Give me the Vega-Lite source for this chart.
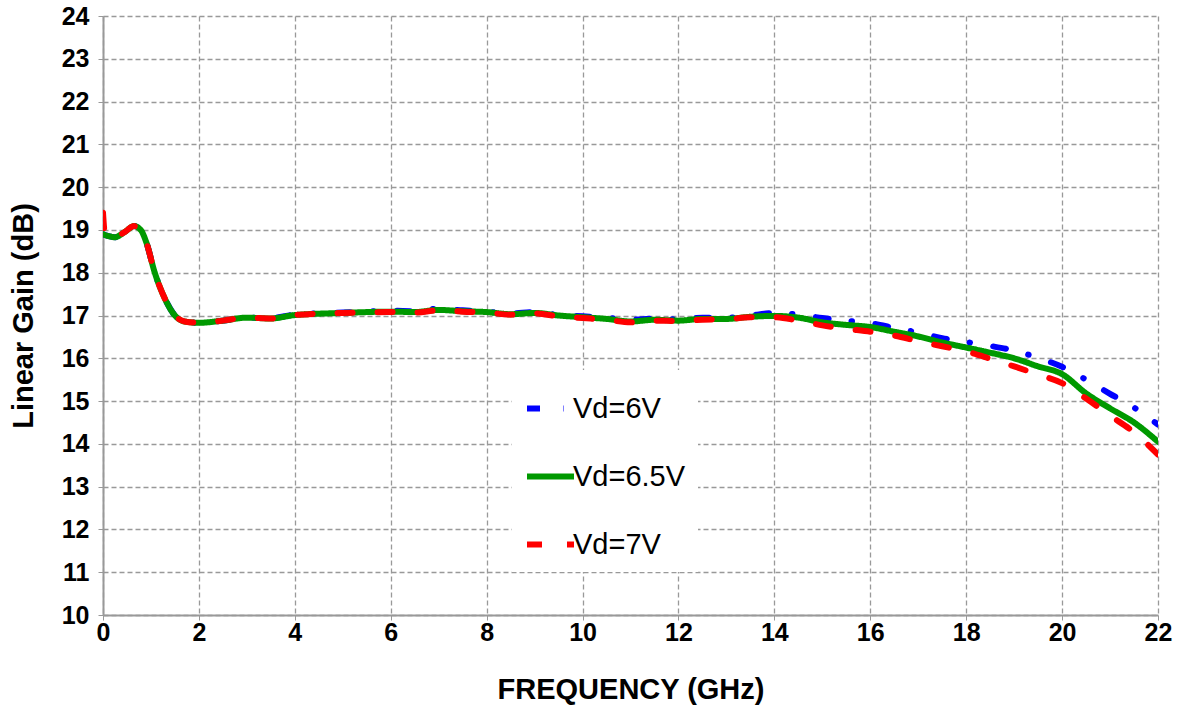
{
  "$schema": "https://vega.github.io/schema/vega-lite/v6.json",
  "width": 1055,
  "height": 599,
  "autosize": {"type": "none"},
  "padding": {"left": 103, "top": 16, "right": 30, "bottom": 95},
  "background": "white",
  "config": {
    "font": "Liberation Sans",
    "view": {"stroke": null}
  },
  "data": {
    "values": [
      {"f": 0, "g": 18.9, "s": "Vd=6V"}, {"f": 0.1, "g": 18.86, "s": "Vd=6V"}, {"f": 0.25, "g": 18.83, "s": "Vd=6V"}, {"f": 0.45, "g": 18.95, "s": "Vd=6V"}, {"f": 0.65, "g": 19.09, "s": "Vd=6V"}, {"f": 0.8, "g": 18.98, "s": "Vd=6V"}, {"f": 0.9, "g": 18.72, "s": "Vd=6V"}, {"f": 1.08, "g": 18.0, "s": "Vd=6V"}, {"f": 1.3, "g": 17.37, "s": "Vd=6V"}, {"f": 1.5, "g": 17.0, "s": "Vd=6V"}, {"f": 1.7, "g": 16.86, "s": "Vd=6V"}, {"f": 2.0, "g": 16.83, "s": "Vd=6V"}, {"f": 2.5, "g": 16.88, "s": "Vd=6V"}, {"f": 3.0, "g": 16.95, "s": "Vd=6V"}, {"f": 3.5, "g": 16.94, "s": "Vd=6V"}, {"f": 4.0, "g": 17.02, "s": "Vd=6V"}, {"f": 5.0, "g": 17.07, "s": "Vd=6V"}, {"f": 6.0, "g": 17.11, "s": "Vd=6V"}, {"f": 6.5, "g": 17.1, "s": "Vd=6V"}, {"f": 7.0, "g": 17.16, "s": "Vd=6V"}, {"f": 7.5, "g": 17.12, "s": "Vd=6V"}, {"f": 8.0, "g": 17.09, "s": "Vd=6V"}, {"f": 8.5, "g": 17.05, "s": "Vd=6V"}, {"f": 9.0, "g": 17.08, "s": "Vd=6V"}, {"f": 9.5, "g": 17.01, "s": "Vd=6V"}, {"f": 10.0, "g": 16.98, "s": "Vd=6V"}, {"f": 10.5, "g": 16.95, "s": "Vd=6V"}, {"f": 11.0, "g": 16.9, "s": "Vd=6V"}, {"f": 11.5, "g": 16.93, "s": "Vd=6V"}, {"f": 12.0, "g": 16.91, "s": "Vd=6V"}, {"f": 12.5, "g": 16.95, "s": "Vd=6V"}, {"f": 13.0, "g": 16.95, "s": "Vd=6V"}, {"f": 13.5, "g": 17.0, "s": "Vd=6V"}, {"f": 14.0, "g": 17.06, "s": "Vd=6V"}, {"f": 14.5, "g": 17.02, "s": "Vd=6V"}, {"f": 15.0, "g": 16.94, "s": "Vd=6V"}, {"f": 15.5, "g": 16.88, "s": "Vd=6V"}, {"f": 16.0, "g": 16.82, "s": "Vd=6V"}, {"f": 16.5, "g": 16.71, "s": "Vd=6V"}, {"f": 17.0, "g": 16.6, "s": "Vd=6V"}, {"f": 17.5, "g": 16.47, "s": "Vd=6V"}, {"f": 18.0, "g": 16.38, "s": "Vd=6V"}, {"f": 18.5, "g": 16.29, "s": "Vd=6V"}, {"f": 19.0, "g": 16.18, "s": "Vd=6V"}, {"f": 19.5, "g": 16.01, "s": "Vd=6V"}, {"f": 20.0, "g": 15.8, "s": "Vd=6V"}, {"f": 20.5, "g": 15.5, "s": "Vd=6V"}, {"f": 21.0, "g": 15.17, "s": "Vd=6V"}, {"f": 21.5, "g": 14.85, "s": "Vd=6V"}, {"f": 22.0, "g": 14.45, "s": "Vd=6V"},

      {"f": 0, "g": 18.9, "s": "Vd=6.5V"}, {"f": 0.1, "g": 18.86, "s": "Vd=6.5V"}, {"f": 0.25, "g": 18.83, "s": "Vd=6.5V"}, {"f": 0.45, "g": 18.95, "s": "Vd=6.5V"}, {"f": 0.65, "g": 19.09, "s": "Vd=6.5V"}, {"f": 0.8, "g": 18.98, "s": "Vd=6.5V"}, {"f": 0.9, "g": 18.72, "s": "Vd=6.5V"}, {"f": 1.08, "g": 18.0, "s": "Vd=6.5V"}, {"f": 1.3, "g": 17.37, "s": "Vd=6.5V"}, {"f": 1.5, "g": 17.0, "s": "Vd=6.5V"}, {"f": 1.7, "g": 16.86, "s": "Vd=6.5V"}, {"f": 2.0, "g": 16.83, "s": "Vd=6.5V"}, {"f": 2.5, "g": 16.88, "s": "Vd=6.5V"}, {"f": 3.0, "g": 16.95, "s": "Vd=6.5V"}, {"f": 3.5, "g": 16.93, "s": "Vd=6.5V"}, {"f": 4.0, "g": 17.01, "s": "Vd=6.5V"}, {"f": 5.0, "g": 17.06, "s": "Vd=6.5V"}, {"f": 6.0, "g": 17.09, "s": "Vd=6.5V"}, {"f": 6.5, "g": 17.08, "s": "Vd=6.5V"}, {"f": 7.0, "g": 17.13, "s": "Vd=6.5V"}, {"f": 7.5, "g": 17.1, "s": "Vd=6.5V"}, {"f": 8.0, "g": 17.08, "s": "Vd=6.5V"}, {"f": 8.5, "g": 17.03, "s": "Vd=6.5V"}, {"f": 9.0, "g": 17.06, "s": "Vd=6.5V"}, {"f": 9.5, "g": 17.0, "s": "Vd=6.5V"}, {"f": 10.0, "g": 16.96, "s": "Vd=6.5V"}, {"f": 10.5, "g": 16.92, "s": "Vd=6.5V"}, {"f": 11.0, "g": 16.86, "s": "Vd=6.5V"}, {"f": 11.5, "g": 16.9, "s": "Vd=6.5V"}, {"f": 12.0, "g": 16.88, "s": "Vd=6.5V"}, {"f": 12.5, "g": 16.92, "s": "Vd=6.5V"}, {"f": 13.0, "g": 16.92, "s": "Vd=6.5V"}, {"f": 13.5, "g": 16.97, "s": "Vd=6.5V"}, {"f": 14.0, "g": 16.99, "s": "Vd=6.5V"}, {"f": 14.5, "g": 16.95, "s": "Vd=6.5V"}, {"f": 15.0, "g": 16.84, "s": "Vd=6.5V"}, {"f": 15.5, "g": 16.78, "s": "Vd=6.5V"}, {"f": 16.0, "g": 16.73, "s": "Vd=6.5V"}, {"f": 16.5, "g": 16.62, "s": "Vd=6.5V"}, {"f": 17.0, "g": 16.51, "s": "Vd=6.5V"}, {"f": 17.5, "g": 16.37, "s": "Vd=6.5V"}, {"f": 18.0, "g": 16.25, "s": "Vd=6.5V"}, {"f": 18.5, "g": 16.13, "s": "Vd=6.5V"}, {"f": 19.0, "g": 16.0, "s": "Vd=6.5V"}, {"f": 19.5, "g": 15.81, "s": "Vd=6.5V"}, {"f": 20.0, "g": 15.63, "s": "Vd=6.5V"}, {"f": 20.5, "g": 15.18, "s": "Vd=6.5V"}, {"f": 21.0, "g": 14.83, "s": "Vd=6.5V"}, {"f": 21.5, "g": 14.5, "s": "Vd=6.5V"}, {"f": 22.0, "g": 14.05, "s": "Vd=6.5V"},

      {"f": 0, "g": 19.4, "s": "Vd=7V"}, {"f": 0.04, "g": 18.92, "s": "Vd=7V"}, {"f": 0.1, "g": 18.86, "s": "Vd=7V"}, {"f": 0.25, "g": 18.83, "s": "Vd=7V"}, {"f": 0.45, "g": 18.95, "s": "Vd=7V"}, {"f": 0.65, "g": 19.09, "s": "Vd=7V"}, {"f": 0.8, "g": 18.98, "s": "Vd=7V"}, {"f": 0.9, "g": 18.72, "s": "Vd=7V"}, {"f": 1.08, "g": 18.0, "s": "Vd=7V"}, {"f": 1.3, "g": 17.37, "s": "Vd=7V"}, {"f": 1.5, "g": 17.0, "s": "Vd=7V"}, {"f": 1.7, "g": 16.86, "s": "Vd=7V"}, {"f": 2.0, "g": 16.83, "s": "Vd=7V"}, {"f": 2.5, "g": 16.88, "s": "Vd=7V"}, {"f": 3.0, "g": 16.95, "s": "Vd=7V"}, {"f": 3.5, "g": 16.93, "s": "Vd=7V"}, {"f": 4.0, "g": 17.01, "s": "Vd=7V"}, {"f": 5.0, "g": 17.06, "s": "Vd=7V"}, {"f": 6.0, "g": 17.08, "s": "Vd=7V"}, {"f": 6.5, "g": 17.07, "s": "Vd=7V"}, {"f": 7.0, "g": 17.12, "s": "Vd=7V"}, {"f": 7.5, "g": 17.09, "s": "Vd=7V"}, {"f": 8.0, "g": 17.07, "s": "Vd=7V"}, {"f": 8.5, "g": 17.02, "s": "Vd=7V"}, {"f": 9.0, "g": 17.05, "s": "Vd=7V"}, {"f": 9.5, "g": 16.98, "s": "Vd=7V"}, {"f": 10.0, "g": 16.94, "s": "Vd=7V"}, {"f": 10.5, "g": 16.9, "s": "Vd=7V"}, {"f": 11.0, "g": 16.84, "s": "Vd=7V"}, {"f": 11.5, "g": 16.88, "s": "Vd=7V"}, {"f": 12.0, "g": 16.87, "s": "Vd=7V"}, {"f": 12.5, "g": 16.9, "s": "Vd=7V"}, {"f": 13.0, "g": 16.91, "s": "Vd=7V"}, {"f": 13.5, "g": 16.96, "s": "Vd=7V"}, {"f": 14.0, "g": 16.96, "s": "Vd=7V"}, {"f": 14.5, "g": 16.88, "s": "Vd=7V"}, {"f": 15.0, "g": 16.77, "s": "Vd=7V"}, {"f": 15.5, "g": 16.69, "s": "Vd=7V"}, {"f": 16.0, "g": 16.62, "s": "Vd=7V"}, {"f": 16.5, "g": 16.53, "s": "Vd=7V"}, {"f": 17.0, "g": 16.4, "s": "Vd=7V"}, {"f": 17.5, "g": 16.28, "s": "Vd=7V"}, {"f": 18.0, "g": 16.16, "s": "Vd=7V"}, {"f": 18.5, "g": 15.99, "s": "Vd=7V"}, {"f": 19.0, "g": 15.81, "s": "Vd=7V"}, {"f": 19.5, "g": 15.62, "s": "Vd=7V"}, {"f": 20.0, "g": 15.42, "s": "Vd=7V"}, {"f": 20.5, "g": 15.06, "s": "Vd=7V"}, {"f": 21.0, "g": 14.66, "s": "Vd=7V"}, {"f": 21.5, "g": 14.27, "s": "Vd=7V"}, {"f": 22.0, "g": 13.75, "s": "Vd=7V"}
    ]
  },
  "mark": {"type": "line", "interpolate": "monotone", "strokeWidth": 6, "strokeCap": "round", "clip": true},
  "encoding": {
    "x": {
      "field": "f", "type": "quantitative",
      "scale": {"domain": [0, 22], "nice": false, "zero": false},
      "axis": {
        "values": [0, 2, 4, 6, 8, 10, 12, 14, 16, 18, 20, 22],
        "title": "FREQUENCY (GHz)",
        "titleFontSize": 29, "titleFontWeight": "bold", "titleColor": "black", "titlePadding": 30,
        "labelFontSize": 25, "labelFontWeight": "bold", "labelColor": "black", "labelPadding": 0,
        "labelFlush": false,
        "tickSize": 5, "tickColor": "#999999", "tickWidth": 1,
        "domainColor": "#999999", "domainWidth": 2,
        "grid": true, "gridColor": "#999999", "gridDash": [5, 3], "gridWidth": 1.3
      }
    },
    "y": {
      "field": "g", "type": "quantitative",
      "scale": {"domain": [10, 24], "nice": false, "zero": false},
      "axis": {
        "values": [10, 11, 12, 13, 14, 15, 16, 17, 18, 19, 20, 21, 22, 23, 24],
        "title": "Linear Gain (dB)",
        "titleFontSize": 29, "titleFontWeight": "bold", "titleColor": "black", "titlePadding": 23,
        "labelFontSize": 25, "labelFontWeight": "bold", "labelColor": "black", "labelPadding": 6,
        "labelFlush": false,
        "tickSize": 8, "tickColor": "#999999", "tickWidth": 1, "tickDash": [5, 3],
        "domainColor": "#999999", "domainWidth": 2,
        "grid": true, "gridColor": "#999999", "gridDash": [5, 3], "gridWidth": 1.3
      }
    },
    "color": {
      "field": "s", "type": "nominal",
      "scale": {"domain": ["Vd=6V", "Vd=6.5V", "Vd=7V"], "range": ["#0000ff", "#009900", "#ff0000"]},
      "legend": {
        "title": null,
        "orient": "none", "legendX": 409, "legendY": 354,
        "fillColor": "white", "padding": 12,
        "symbolType": "stroke", "symbolSize": 2209, "symbolStrokeWidth": 6,
        "labelFontSize": 29, "labelColor": "black", "labelOffset": -4, "labelLimit": 300,
        "rowPadding": 26
      }
    },
    "strokeDash": {
      "field": "s", "type": "nominal",
      "scale": {"domain": ["Vd=6V", "Vd=6.5V", "Vd=7V"], "range": [[13, 23, 0.5, 23.5], [1, 0], [15, 25]]},
      "legend": {
        "title": null,
        "orient": "none", "legendX": 409, "legendY": 354,
        "fillColor": "white", "padding": 12,
        "symbolType": "stroke", "symbolSize": 2209, "symbolStrokeWidth": 6,
        "labelFontSize": 29, "labelColor": "black", "labelOffset": -4, "labelLimit": 300,
        "rowPadding": 26
      }
    }
  }
}
